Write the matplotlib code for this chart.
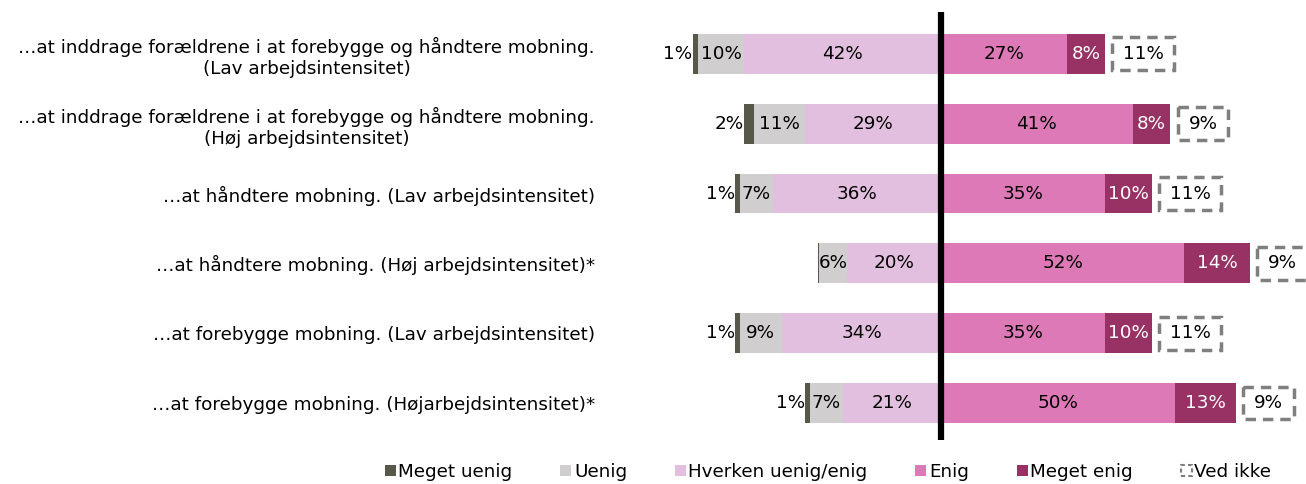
import matplotlib.pyplot as plt
from matplotlib.patches import Patch

plt.rcParams['font.family'] = ['DejaVu Sans']

# --- data ---
labels = [
    "…at inddrage forældrene i at forebygge og håndtere mobning.\n(Lav arbejdsintensitet)",
    "…at inddrage forældrene i at forebygge og håndtere mobning.\n(Høj arbejdsintensitet)",
    "…at håndtere mobning. (Lav arbejdsintensitet)",
    "…at håndtere mobning. (Høj arbejdsintensitet)*",
    "…at forebygge mobning. (Lav arbejdsintensitet)",
    "…at forebygge mobning. (Højarbejdsintensitet)*",
]
meget_uenig = [1, 2, 1, 0.3, 1, 1]
uenig = [10, 11, 7, 6, 9, 7]
hverken = [42, 29, 36, 20, 34, 21]
enig = [27, 41, 35, 52, 35, 50]
meget_enig = [8, 8, 10, 14, 10, 13]
ved_ikke = [11, 9, 11, 9, 11, 9]

series_names = ["Meget uenig", "Uenig", "Hverken uenig/enig", "Enig", "Meget enig", "Ved ikke"]
colors = ["#57574a", "#d0cece", "#e3bfdf", "#de79b8", "#993264"]

W, H = 1306, 484
fig = plt.figure(figsize=(W / 100, H / 100), dpi=100)
ax = fig.add_axes([620 / W, (H - 440) / H, (W - 620) / W, 428 / H])

ys = list(range(len(labels)))
bh = 0.57
fs = 13.2


def label(x, y, v, color="black", ha="center"):
    ax.text(x, y, f"{v}%", ha=ha, va="center", fontsize=fs, color=color)


for i, y in enumerate(ys):
    # negative side: hverken next to center, then uenig, then meget uenig
    x = 0
    x -= hverken[i]
    ax.barh(y, hverken[i], left=x, height=bh, color=colors[2])
    label(x + hverken[i] / 2, y, hverken[i])
    x -= uenig[i]
    ax.barh(y, uenig[i], left=x, height=bh, color=colors[1])
    label(x + uenig[i] / 2, y, uenig[i])
    x -= meget_uenig[i]
    ax.barh(y, meget_uenig[i], left=x, height=bh, color=colors[0])
    if meget_uenig[i] >= 0.5:
        label(x - 0.1, y, meget_uenig[i], ha="right")

    # positive side
    ax.barh(y, enig[i], left=0, height=bh, color=colors[3])
    label(enig[i] / 2, y, enig[i])
    ax.barh(y, meget_enig[i], left=enig[i], height=bh, color=colors[4])
    label(enig[i] + meget_enig[i] / 2, y, meget_enig[i], color="white")

    # ved ikke: dashed box after the bar
    start = enig[i] + meget_enig[i] + 1.6
    w = ved_ikke[i] * 1.2
    ax.barh(y, w, left=start, height=0.47, color="white", edgecolor="#7f7f7f",
            linewidth=2.5, linestyle=(0, (3, 2)), clip_on=False)
    label(start + w / 2, y, ved_ikke[i])

ax.axvline(0, color="black", linewidth=4.5)

ax.set_xlim(-68.6, 78)
ax.set_ylim(5.53, -0.6)
ax.set_yticks(ys)
ax.set_yticklabels(labels, fontsize=fs, multialignment="center")
ax.tick_params(axis="y", length=0, pad=18)
ax.set_xticks([])
for s in ax.spines.values():
    s.set_visible(False)

handles = [Patch(facecolor=c, edgecolor="none") for c in colors]
handles.append(Patch(facecolor="white", edgecolor="#7f7f7f", linestyle=(0, (2, 1.5)), linewidth=1.5))
fig.legend(handles, series_names, loc="center", bbox_to_anchor=(828 / W, 1 - 472 / H),
           ncol=6, frameon=False, fontsize=fs, handlelength=0.6, handleheight=0.6,
           handletextpad=0.15, columnspacing=2.6)

fig.savefig("out.png", dpi=100)
